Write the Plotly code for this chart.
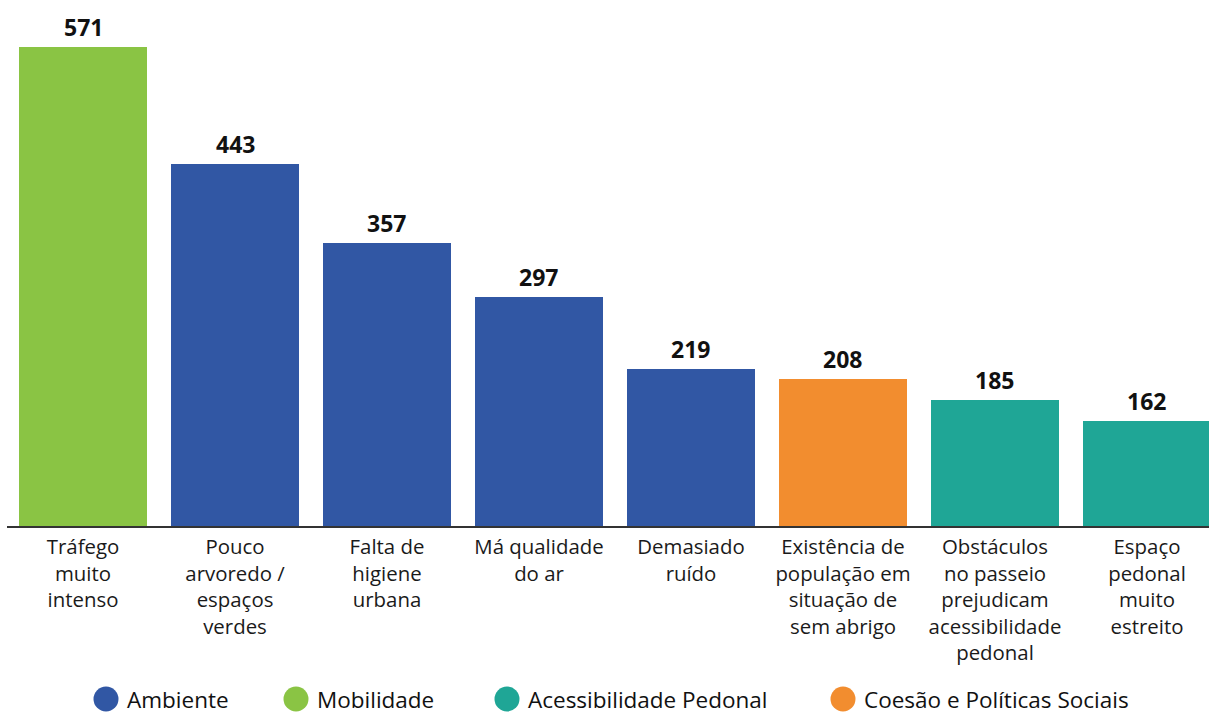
import plotly.graph_objects as go

# Problem categories, their counts and the thematic group of each
categories = [
    "Tráfego<br>muito<br>intenso",
    "Pouco<br>arvoredo /<br>espaços<br>verdes",
    "Falta de<br>higiene<br>urbana",
    "Má qualidade<br>do ar",
    "Demasiado<br>ruído",
    "Existência de<br>população em<br>situação de<br>sem abrigo",
    "Obstáculos<br>no passeio<br>prejudicam<br>acessibilidade<br>pedonal",
    "Espaço<br>pedonal<br>muito<br>estreito",
]
values = [571, 443, 357, 297, 219, 208, 185, 162]
groups = [
    "Mobilidade", "Ambiente", "Ambiente", "Ambiente",
    "Ambiente", "Coesão e Políticas Sociais",
    "Acessibilidade Pedonal", "Acessibilidade Pedonal",
]

# Legend order and colours per group
legend_groups = ["Ambiente", "Mobilidade", "Acessibilidade Pedonal", "Coesão e Políticas Sociais"]
group_colors = {
    "Ambiente": "#3157A4",
    "Mobilidade": "#8AC444",
    "Acessibilidade Pedonal": "#1FA696",
    "Coesão e Políticas Sociais": "#F28D2F",
}
legend_x_px = [106, 296, 507, 843]

FONT = "Open Sans, Noto Sans, sans-serif"
W, H = 1209, 715
ML, MT, MB = 7, 0, 189
plot_w = W - ML
plot_h = H - MT - MB

fig = go.Figure()
fig.add_trace(go.Bar(
    x=list(range(len(categories))),
    y=values,
    width=0.842,
    marker=dict(color=[group_colors[g] for g in groups], line=dict(width=0)),
    showlegend=False,
    hoverinfo="skip",
))

annotations = []
# Value labels above each bar
for i, v in enumerate(values):
    annotations.append(dict(
        x=i, y=v, xref="x", yref="y", yanchor="bottom", yshift=2,
        showarrow=False, text=f"<b>{v}</b>",
        font=dict(family=FONT, size=23, color="#111111"),
    ))

# Legend: coloured dots with group names below the axis
shapes = []
y_leg = (plot_h - (699 - MT)) / plot_h
for name, px in zip(legend_groups, legend_x_px):
    xp = (px - ML) / plot_w
    shapes.append(dict(
        type="circle", xref="paper", yref="paper",
        xsizemode="pixel", ysizemode="pixel",
        xanchor=xp, yanchor=y_leg,
        x0=-12.5, x1=12.5, y0=-12.5, y1=12.5,
        fillcolor=group_colors[name], line=dict(width=0),
    ))
    annotations.append(dict(
        xref="paper", yref="paper", x=xp + 19 / plot_w, y=y_leg,
        xanchor="left", yanchor="middle", showarrow=False,
        text=name, font=dict(family=FONT, size=22.5, color="#111111"),
    ))

fig.update_layout(
    width=W, height=H,
    margin=dict(l=ML, r=0, t=MT, b=MB, pad=0),
    paper_bgcolor="white", plot_bgcolor="white",
    bargap=0,
    font=dict(family=FONT, size=20, color="#111111"),
    shapes=shapes,
    annotations=annotations,
    xaxis=dict(
        range=[-0.5, 7.408],
        tickmode="array",
        tickvals=list(range(len(categories))),
        ticktext=categories,
        tickfont=dict(family=FONT, size=20.4, color="#1a1a1a"),
        showgrid=False, zeroline=False,
        showline=True, linecolor="#333333", linewidth=1.5,
        ticks="", ticklabelstandoff=2,
    ),
    yaxis=dict(
        range=[47, 622.4],
        visible=False, showgrid=False, zeroline=False,
    ),
)

fig.write_html("out.html")
